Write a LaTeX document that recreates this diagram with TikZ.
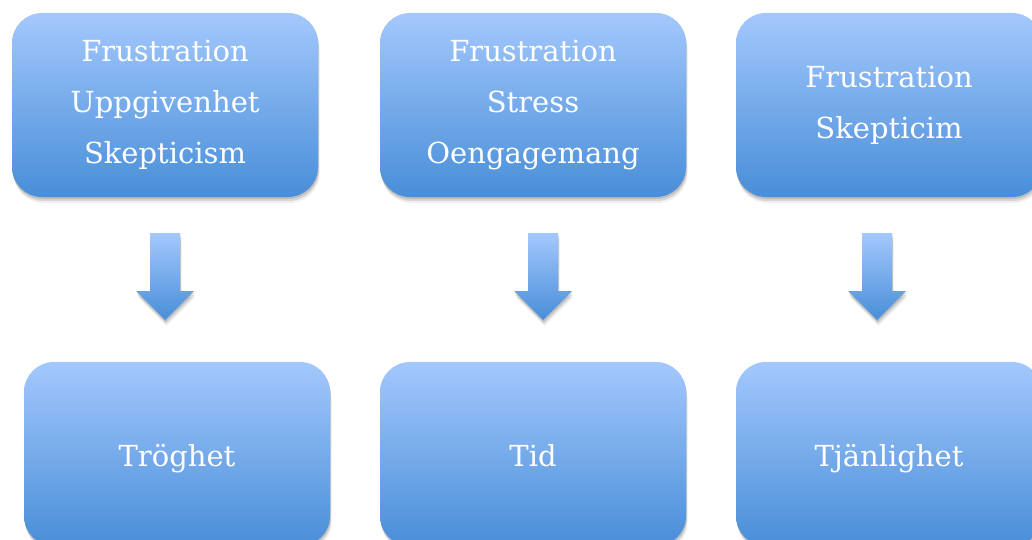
\documentclass[tikz,border=0pt]{standalone}
\usepackage{fontspec}
\setmainfont{DejaVu Serif}
\usetikzlibrary{shadows}
\definecolor{boxtop}{RGB}{164,200,253}
\definecolor{boxbot}{RGB}{72,142,216}
\tikzset{
  softshadow/.style={
    drop shadow={shadow xshift=0.5pt, shadow yshift=-2pt, opacity=0.12, fill=black},
    drop shadow={shadow xshift=1pt, shadow yshift=-4pt, opacity=0.10, fill=black},
    drop shadow={shadow xshift=1.5pt, shadow yshift=-6pt, opacity=0.06, fill=black}},
  box/.style={rounded corners=30pt, minimum width=306pt, minimum height=184pt,
    top color=boxtop, bottom color=boxbot, draw=none, text=white, align=center,
    font=\fontsize{29}{51}\selectfont, softshadow},
  result/.style={box, text height=27pt, text depth=3pt},
  blockarrow/.style={top color=boxtop, bottom color=boxbot, draw=none, softshadow}
}
\begin{document}
\begin{tikzpicture}[x=1pt,y=-1pt]
\clip (0,0) rectangle (1032,540);
\fill[white] (0,0) rectangle (1032,540);
\node[box] (f1) at (165,105) {Frustration\\Uppgivenhet\\Skepticism};
\node[box] (f2) at (533,105) {Frustration\\Stress\\Oengagemang};
\node[box] (f3) at (889,105) {Frustration\\Skepticim};
\node[result] (t1) at (177,454) {Tröghet};
\node[result] (t2) at (533,454) {Tid};
\node[result] (t3) at (889,454) {Tjänlighet};
\path[blockarrow] (150,233) -- (180,233) -- (180,291) -- (194,291) -- (165,320) -- (136,291) -- (150,291) -- cycle;
\path[blockarrow] (528,233) -- (558,233) -- (558,291) -- (572,291) -- (543,320) -- (514,291) -- (528,291) -- cycle;
\path[blockarrow] (862,233) -- (892,233) -- (892,291) -- (906,291) -- (877,320) -- (848,291) -- (862,291) -- cycle;
\end{tikzpicture}
\end{document}
